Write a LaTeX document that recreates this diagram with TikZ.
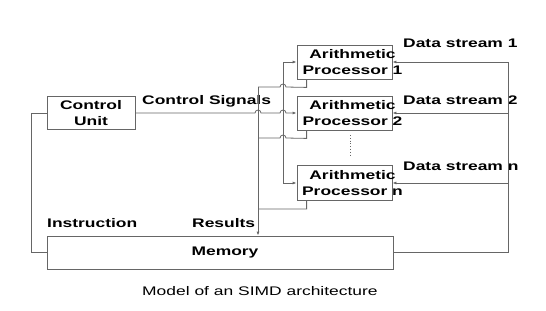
\documentclass[tikz,border=0pt]{standalone}
\usepackage{fontspec}
\setmainfont{Liberation Sans}[FakeStretch=1.4]
\usetikzlibrary{arrows.meta, positioning, calc}

\begin{document}
\begin{tikzpicture}[x=1bp, y=-1bp,
  font=\fontsize{12.5}{16}\selectfont,
  box/.style={draw=black!60, line width=0.8bp, inner sep=0pt, font=\fontsize{12.5}{16}\selectfont\bfseries, align=center},
  lbl/.style={inner sep=0pt, anchor=base west, font=\fontsize{12.5}{16}\selectfont\bfseries},
  wire/.style={draw=black!60, line width=0.8bp},
  arr/.style={wire, -{Latex[length=4bp, width=3bp]}}]
\useasboundingbox (0,0) rectangle (546,310);

\node[box, minimum width=88bp, minimum height=33bp] (cu) at (91,113) {Control\\Unit};
\node[box, minimum width=95bp, minimum height=34bp] (p1) at (344.5,62) {};
\node[box, minimum width=95bp, minimum height=34bp] (p2) at (344.5,113) {};
\node[box, minimum width=95bp, minimum height=35bp] (pn) at (344.5,183) {};
\node[box, minimum width=346bp, minimum height=33bp] (mem) at (220,252.5) {\hspace*{10bp}Memory};

\node[box, draw=none] (p1t) at ([xshift=8bp]p1.center) {Arithmetic\\Processor 1};
\node[box, draw=none] (p2t) at ([xshift=8bp]p2.center) {Arithmetic\\Processor 2};
\node[box, draw=none] (pnt) at ([xshift=8bp]pn.center) {Arithmetic\\Processor n};

\node[lbl] (sig) at (142,104) {Control Signals};
\node[lbl] (ins) at (47,227) {Instruction};
\node[lbl] (res) at (192,227) {Results};
\node[lbl] (ds1) at (403,47) {Data stream 1};
\node[lbl] (ds2) at (403,104) {Data stream 2};
\node[lbl] (dsn) at (403,170) {Data stream n};
\node[inner sep=0pt, anchor=base west] (cap) at (142,295) {Model of an SIMD architecture};

\coordinate (rbus) at (258,0);
\coordinate (cbus) at (283,0);
\coordinate (dbus) at (508,0);

\draw[arr] (cu.east) -- (255,113) arc[start angle=180, end angle=360, radius=3] -- (280,113) arc[start angle=180, end angle=360, radius=3] -- (p2.west);
\draw[arr] (p1.west -| cbus) -- (p1.west);
\draw[wire] (p1.west -| cbus) -- (pn.west -| cbus);
\draw[arr] (pn.west -| cbus) -- (pn.west);

\draw[wire] ([xshift=10bp]p1.south west) -- ++(0,8) -- (286,87) arc[start angle=360, end angle=180, radius=3] -- (258,87);
\draw[wire] ([xshift=10bp]p2.south west) -- ++(0,8) -- (286,138) arc[start angle=360, end angle=180, radius=3] -- (258,138);
\draw[wire] ([xshift=10bp]pn.south west) -- ++(0,8) -- (258,209);
\draw[arr] (258,87) -- (mem.north -| rbus);

\draw[wire] (cu.west) -- ++(-15,0) |- (mem.west);
\draw[wire] (mem.east) -| (p1.east -| dbus);
\draw[arr] (p1.east -| dbus) -- (p1.east);
\draw[arr] (p2.east -| dbus) -- (p2.east);
\draw[arr] (pn.east -| dbus) -- (pn.east);

\draw[wire, dotted] (350,135) -- (350,155);
\end{tikzpicture}
\end{document}
